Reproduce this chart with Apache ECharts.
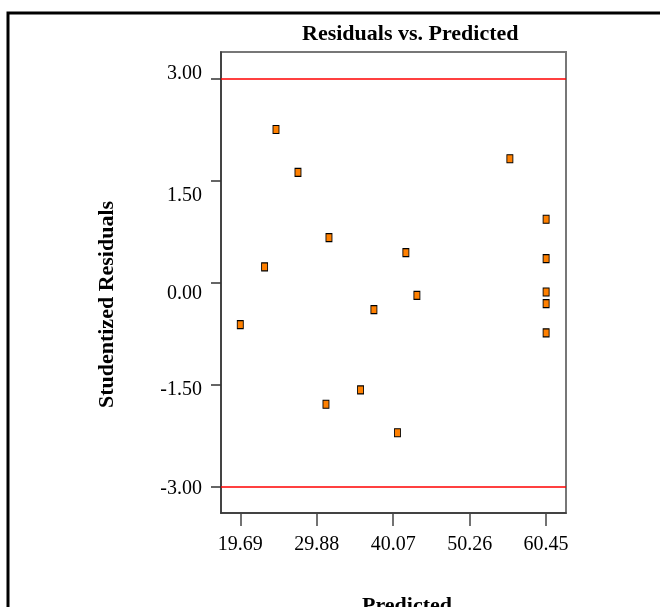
<!DOCTYPE html>
<html>
<head>
<meta charset="utf-8">
<script src="https://cdn.jsdelivr.net/npm/echarts@6/dist/echarts.min.js"></script>
<style>
  html, body { margin: 0; padding: 0; background: #fff; }
  #chart { width: 660px; height: 607px; }
</style>
</head>
<body>
<div id="chart"></div>
<script>
  // predicted value and studentized residual of each run
  var predicted = [24.45, 27.38, 55.62, 60.45, 31.51, 41.76, 60.45, 22.93, 43.23,
                   60.45, 60.45, 37.50, 19.69, 60.45, 31.11, 35.72, 40.64];
  var residuals = [2.25, 1.62, 1.82, 0.93, 0.66, 0.44, 0.35, 0.23, -0.19,
                   -0.14, -0.31, -0.40, -0.62, -0.74, -1.79, -1.58, -2.21];
  var xTicks = [19.69, 29.88, 40.07, 50.26, 60.45];
  var yTicks = [-3, -1.5, 0, 1.5, 3];
  var limits = [-3, 3];

  var points = [];
  for (var i = 0; i < predicted.length; i++) {
    points.push([predicted[i], residuals[i]]);
  }

  var serif = '"Liberation Serif", "Times New Roman", serif';
  // the original tool puts the y labels a bit off their ticks
  var yLabelStyle = { '3': 'u', '1.5': 'd2', '0': 'd1', '-1.5': 'd0', '-3': 'c' };

  var myChart = echarts.init(document.getElementById('chart'));
  var option = {
    animation: false,
    title: {
      text: 'Residuals vs. Predicted',
      left: 297,
      top: 18,
      textStyle: { fontFamily: serif, fontSize: 22, fontWeight: 'bold', color: '#000' }
    },
    graphic: [{
      type: 'rect',
      shape: { x: 8, y: 13, width: 700, height: 700 },
      style: { fill: 'none', stroke: '#000', lineWidth: 3 },
      silent: true
    }],
    grid: {
      left: 221, top: 52, width: 345, height: 461,
      outerBoundsMode: 'none',
      containLabel: false,
      show: true, borderColor: '#777', borderWidth: 2, backgroundColor: 'transparent'
    },
    xAxis: {
      type: 'value',
      min: 17.12,
      max: 63.1,
      name: 'Predicted',
      nameLocation: 'middle',
      nameGap: 82,
      nameTextStyle: { fontFamily: serif, fontSize: 22, fontWeight: 'bold', color: '#000', padding: [0, 0, 0, 27] },
      axisLine: { onZero: false, lineStyle: { color: '#333', width: 1.5 } },
      axisTick: { show: true, length: 13, customValues: xTicks, lineStyle: { color: '#444', width: 1.5 } },
      axisLabel: {
        customValues: xTicks, margin: 22,
        fontFamily: serif, fontSize: 20, color: '#000',
        formatter: function (v) { return v.toFixed(2); }
      },
      splitLine: { show: false }
    },
    yAxis: {
      type: 'value',
      min: -3.39,
      max: 3.39,
      name: 'Studentized Residuals',
      nameLocation: 'middle',
      nameGap: 103,
      nameTextStyle: { fontFamily: serif, fontSize: 22, fontWeight: 'bold', color: '#000', padding: [0, 44, 0, 0] },
      axisLine: { onZero: false, lineStyle: { color: '#333', width: 1.5 } },
      axisTick: { show: true, length: 10, customValues: yTicks, lineStyle: { color: '#333', width: 1.5 } },
      axisLabel: {
        customValues: yTicks, margin: 19,
        fontFamily: serif, fontSize: 20, color: '#000',
        formatter: function (v) {
          var key = yLabelStyle[String(v)] || 'c';
          return '{' + key + '|' + v.toFixed(2) + '}';
        },
        rich: {
          u: { fontFamily: serif, fontSize: 20, color: '#000', padding: [0, 0, 10, 0] },
          d2: { fontFamily: serif, fontSize: 20, color: '#000', padding: [30, 0, 0, 0] },
          d1: { fontFamily: serif, fontSize: 20, color: '#000', padding: [22, 0, 0, 0] },
          d0: { fontFamily: serif, fontSize: 20, color: '#000', padding: [10, 0, 0, 0] },
          c: { fontFamily: serif, fontSize: 20, color: '#000', padding: [4, 0, 0, 0] }
        }
      },
      splitLine: { show: false }
    },
    series: [{
      type: 'scatter',
      data: points,
      symbol: 'rect',
      symbolSize: [6, 8],
      itemStyle: { color: '#FF8000', borderColor: '#000', borderWidth: 1, opacity: 1 },
      markLine: {
        silent: true,
        symbol: 'none',
        label: { show: false },
        lineStyle: { color: '#FF0000', width: 1.5, type: 'solid' },
        data: limits.map(function (v) { return { yAxis: v }; })
      }
    }]
  };
  myChart.setOption(option);
</script>
</body>
</html>
